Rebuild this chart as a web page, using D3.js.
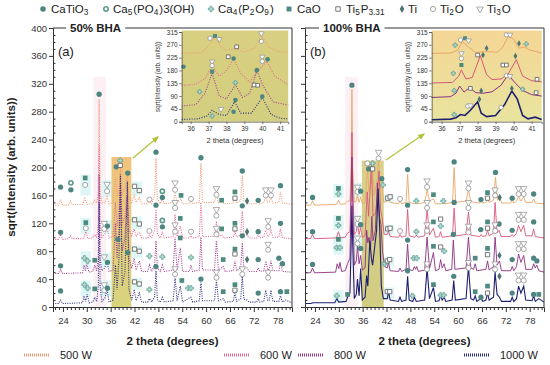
<!DOCTYPE html>
<html lang="en">
<head>
<meta charset="UTF-8">
<script src="https://cdn.jsdelivr.net/npm/d3@7"></script>
<style>
  body { margin: 0; background: #fff; }
  svg { font-family: "Liberation Sans", Arial, sans-serif; }
</style>
</head>
<body>
<script>
const w = 550, h = 365;

// ---------- axes / labels ----------
const xDomain = [21.5, 81.6];
const xTicks = [24, 30, 36, 42, 48, 54, 60, 66, 72, 78];
const yTicks = [0, 40, 80, 120, 160, 200, 240, 280, 320, 360, 400];
const insetXTicks = [36, 37, 38, 39, 40, 41];
const insetYTicks = [0, 45, 90, 135, 180, 225, 270, 315];
const powers = ["500 W", "600 W", "800 W", "1000 W"];
const colorsA = ["#f29a78", "#e46a94", "#a03a8e", "#2c2e80"];
const colorsB = ["#e8a868", "#d8587a", "#8a3080", "#1e2070"];

// phase legend: key, label parts [text, isSub]
const phases = [
  ["ct",   [["CaTiO",0],["3",1]]],
  ["hap",  [["Ca",0],["5",1],["(PO",0],["4",1],[")3(OH)",0]]],
  ["cp",   [["Ca",0],["4",1],["(P",0],["2",1],["O",0],["9",1],[")",0]]],
  ["cao",  [["CaO",0]]],
  ["tip",  [["Ti",0],["5",1],["P",0],["3.31",1]]],
  ["ti",   [["Ti",0]]],
  ["ti2o", [["Ti",0],["2",1],["O",0]]],
  ["ti3o", [["Ti",0],["3",1],["O",0]]]
];

// ---------- (a) 50% BHA, dotted patterns [2theta, sqrt(I)] ----------
const a500 = [[21.5,146],[22.9,146],[23.4,154],[23.9,146],[25.4,146],[25.9,152],[26.4,147],[28.9,147],[29.5,156],[30.1,147],[31.4,148],[31.9,153],[32.5,149],[32.9,165],[33.1,298],[33.35,165],[33.8,149],[34.6,150],[35.1,158],[35.6,148],[36.6,150],[37.2,186],[37.6,158],[38.1,172],[38.45,200],[38.9,162],[39.6,168],[40.2,188],[40.6,158],[41.3,150],[41.9,160],[42.4,150],[43.2,157],[43.8,148],[45.3,148],[45.75,153],[46.3,148],[47.05,160],[47.4,214],[47.75,155],[48.5,148],[49,155],[49.5,148],[51.7,150],[52.2,163],[52.7,150],[53.6,155],[54.1,148],[55.8,148],[56.2,152],[56.6,148],[58.3,150],[58.7,206],[59.1,150],[62.1,150],[62.6,162],[63.1,150],[63.9,153],[64.4,148],[66.8,149],[67.25,155],[67.7,149],[68.7,153],[69.1,188],[69.5,152],[70.3,152],[70.8,148],[72.7,148],[73.1,152],[73.5,148],[74.5,150],[75,158],[75.5,150],[75.9,151],[76.3,158],[76.8,149],[78.3,150],[78.7,165],[79.2,149],[81.6,147]];
const a600 = [[21.5,97],[22.9,97],[23.4,104],[23.9,97],[25.4,98],[25.9,102],[26.4,98],[29.2,98],[29.75,108],[30.3,98],[31.4,99],[31.9,104],[32.5,100],[32.9,120],[33.1,232],[33.35,118],[33.8,100],[34.5,104],[35.1,113],[35.6,99],[36.6,101],[37.2,150],[37.6,115],[38.1,140],[38.45,185],[38.9,118],[39.6,130],[40.2,172],[40.6,112],[41.3,102],[41.9,112],[42.4,101],[43.2,108],[43.8,99],[45.3,99],[45.75,103],[46.3,99],[47.05,110],[47.4,140],[47.75,104],[48.5,99],[49,108],[49.5,99],[51.7,101],[52.2,133],[52.7,101],[53.5,116],[54.1,99],[55.8,99],[56.2,102],[56.6,99],[58.3,101],[58.7,150],[59.1,101],[62.1,101],[62.6,123],[63.1,101],[63.9,104],[64.4,99],[66.8,100],[67.25,108],[67.7,100],[68.7,104],[69.1,138],[69.5,103],[70.3,103],[70.8,99],[72.7,99],[73.1,103],[73.5,99],[74.5,100],[75,110],[75.5,101],[75.9,102],[76.3,110],[76.8,100],[78.3,100],[78.7,112],[79.2,99],[81.6,98]];
const a800 = [[21.5,48],[22.9,48],[23.4,54],[23.9,48],[28.9,49],[29.3,60],[29.7,52],[30,62],[30.5,50],[31.5,51],[32,60],[32.5,52],[32.9,70],[33.1,190],[33.35,70],[33.8,52],[34.5,56],[35.1,66],[35.6,51],[36.6,53],[37.2,120],[37.6,70],[38.1,110],[38.45,175],[38.9,80],[39.6,100],[40.2,160],[40.6,70],[41.3,55],[41.9,70],[42.4,53],[43.2,66],[43.8,51],[45.3,51],[45.75,60],[46.3,51],[47.05,60],[47.4,95],[47.75,56],[48.5,51],[49,60],[49.5,51],[51.7,53],[52.2,100],[52.7,53],[53.5,85],[54.1,51],[55.8,51],[56.2,60],[56.6,51],[58.3,53],[58.7,100],[59.1,53],[62.1,53],[62.6,95],[63.1,53],[64.3,58],[64.8,51],[66.8,52],[67.25,66],[67.7,52],[68.7,56],[69.1,92],[69.5,55],[70.3,56],[70.8,51],[72.7,51],[73.1,56],[73.5,51],[74.5,52],[75,66],[75.5,53],[75.9,54],[76.3,66],[76.8,52],[78.3,52],[78.7,64],[79.2,51],[81.6,50]];
const a1000 = [[21.5,5],[22.9,5],[23.4,10],[23.9,5],[28.9,6],[29.3,16],[29.7,8],[30.1,18],[30.6,6],[31.5,7],[32,14],[32.5,8],[32.9,30],[33.1,150],[33.35,30],[33.8,8],[34.5,12],[35.1,25],[35.6,7],[36.6,10],[37.2,60],[37.6,25],[38.1,70],[38.45,190],[38.9,30],[39.6,50],[40.2,180],[40.6,25],[41.3,10],[41.9,25],[42.4,9],[43.2,20],[43.8,7],[45.3,7],[45.75,12],[46.3,7],[47.05,15],[47.4,52],[47.75,10],[48.5,7],[49,14],[49.5,7],[51.7,9],[52.2,42],[52.7,9],[53.5,30],[54.1,7],[55.5,12],[56.2,14],[56.6,7],[58.3,9],[58.7,35],[59.1,9],[62.1,9],[62.6,38],[63.1,9],[64.3,12],[64.8,7],[66.8,8],[67.25,20],[67.7,8],[68.7,12],[69.1,44],[69.5,11],[70.3,10],[70.8,7],[72.7,7],[73.1,12],[73.5,7],[74.5,8],[75,24],[75.5,9],[75.9,10],[76.3,24],[76.8,8],[78.3,8],[78.7,16],[79.2,7],[80,10],[81.6,6]];

// ---------- (b) 100% BHA, solid patterns ----------
const b500 = [[21.5,146],[22.9,146],[23.4,152],[23.9,146],[29.4,147],[29.9,153],[30.4,147],[31.6,148],[32.2,152],[32.8,152],[33.1,200],[33.3,312],[33.5,200],[33.9,150],[34.4,152],[34.7,160],[35.1,150],[35.5,158],[35.9,148],[36.6,150],[37.2,200],[37.6,165],[38.2,180],[38.5,200],[38.9,160],[39.6,180],[40,212],[40.4,170],[40.8,176],[41.3,150],[42.2,152],[42.5,156],[42.9,150],[45,148],[45.4,152],[45.8,148],[46.9,150],[47.3,190],[47.7,150],[49.1,148],[49.5,150],[49.9,148],[51.6,150],[52.2,168],[52.8,152],[53.8,155],[54.3,148],[55.9,148],[56.3,150],[56.7,148],[58.6,150],[59,200],[59.4,150],[62,152],[62.6,168],[63.2,151],[65.4,149],[65.75,152],[66.1,149],[67,150],[67.4,153],[67.8,150],[68.9,153],[69.4,186],[69.9,153],[70.45,156],[71,149],[73.2,149],[73.6,153],[74,149],[74.7,152],[75.2,158],[75.8,152],[76.5,158],[77,150],[78.6,150],[79,155],[79.4,149],[81.6,148]];
const b600 = [[21.5,98],[22.9,98],[23.4,104],[23.9,98],[29.4,99],[29.9,108],[30.4,99],[31.6,100],[32.2,106],[32.8,108],[33.1,170],[33.3,250],[33.5,170],[33.9,104],[34.4,108],[34.7,120],[35.1,104],[35.5,114],[35.9,100],[36.6,102],[37.15,165],[37.5,130],[38.2,205],[38.6,130],[39.3,135],[39.7,160],[40.1,195],[40.5,140],[40.9,128],[41.4,104],[42.2,104],[42.5,109],[42.9,101],[45,100],[45.4,104],[45.8,100],[46.9,102],[47.3,140],[47.7,102],[49.1,100],[49.5,103],[49.9,100],[51.6,102],[52.2,140],[52.8,103],[53.8,113],[54.3,100],[55.2,101],[55.6,108],[56,100],[58.6,102],[59,142],[59.4,102],[62,104],[62.6,136],[63.2,103],[65.4,101],[65.75,104],[66.1,101],[67,102],[67.4,110],[67.8,102],[68.9,106],[69.3,150],[69.8,106],[70.3,110],[70.8,101],[73.2,101],[73.6,104],[74,101],[74.7,106],[75.2,117],[75.8,108],[76.5,117],[77,102],[78.6,102],[79,112],[79.4,101],[81.6,99]];
const b800 = [[21.5,49],[22.9,49],[23.4,56],[23.9,49],[29.2,50],[29.6,62],[30,55],[30.3,64],[30.7,51],[31.6,52],[32.2,62],[32.8,70],[33.1,150],[33.3,215],[33.5,150],[33.9,60],[34.4,66],[34.7,88],[35.1,62],[35.5,74],[35.9,53],[36.6,56],[37,110],[37.3,92],[37.6,100],[38,85],[38.3,130],[38.6,95],[39.2,110],[39.7,178],[40.2,130],[40.6,118],[41,80],[41.5,58],[42.2,56],[42.5,64],[42.9,52],[45,51],[45.4,56],[45.8,51],[46.9,54],[47.3,90],[47.7,54],[48.6,52],[49,58],[49.3,54],[49.6,58],[50,51],[51.6,53],[52.2,100],[52.8,55],[53.8,78],[54.3,52],[55.2,54],[55.6,68],[56,56],[56.5,62],[56.9,52],[58.4,54],[58.8,96],[59.2,54],[62,56],[62.6,100],[63.2,56],[63.9,54],[64.3,62],[64.7,52],[67,54],[67.4,66],[67.8,53],[68.9,58],[69.3,100],[69.8,60],[70.4,66],[70.9,52],[73.2,52],[73.6,58],[74,52],[74.7,58],[75.2,76],[75.8,64],[76.5,74],[77,54],[78.6,54],[79,62],[79.4,56],[79.8,60],[80.3,52],[81.6,50]];
const b1000 = [[21.5,5],[23,5],[23.5,6],[29,6],[29.5,12],[30,7],[31.8,8],[32.2,14],[32.8,20],[33.1,90],[33.3,145],[33.5,90],[33.9,12],[34.4,18],[34.7,40],[35.1,16],[35.5,55],[35.9,10],[36.6,14],[37,45],[37.3,30],[37.8,95],[38.2,70],[38.5,60],[39,85],[39.5,110],[39.9,170],[40.3,110],[40.7,30],[41.2,12],[42.2,12],[42.5,22],[42.9,10],[45,8],[45.4,14],[45.8,8],[46.9,10],[47.3,44],[47.7,10],[48.6,8],[49,14],[49.5,8],[51.6,10],[52.2,56],[52.8,12],[53.8,28],[54.3,8],[55.2,9],[55.6,16],[56,10],[56.5,14],[56.9,8],[58.5,10],[58.9,38],[59.3,10],[62,12],[62.6,58],[63.2,12],[63.9,10],[64.3,16],[64.7,8],[65.75,12],[66.2,8],[67,10],[67.4,20],[67.8,10],[68.9,14],[69.3,50],[69.8,18],[70.4,14],[70.9,8],[73.2,8],[73.6,14],[74,8],[74.7,12],[75.2,30],[75.8,20],[76.5,30],[77,10],[78.6,9],[79,16],[79.4,8],[80.3,12],[81.6,7]];

// ---------- insets (36-41 deg) ----------
const ia500 = [[35.5,240],[36.6,242],[37.05,270],[37.35,300],[37.7,262],[38.0,250],[38.55,258],[39,244],[39.6,260],[39.95,305],[40.35,262],[40.8,248],[41.45,244]];
const ia600 = [[35.5,128],[36.2,130],[36.8,150],[37.2,195],[37.6,160],[38.0,180],[38.4,220],[38.8,170],[39.3,140],[39.7,175],[40.25,212],[40.7,160],[41.45,130]];
const ia800 = [[35.5,55],[36.3,60],[36.8,100],[37.2,170],[37.6,90],[38.0,80],[38.5,130],[38.9,85],[39.3,100],[39.7,178],[40.1,120],[40.6,70],[41.45,58]];
const ia1000 = [[35.5,8],[36.4,10],[36.9,20],[37.2,40],[37.6,25],[38.0,22],[38.45,70],[38.8,30],[39.4,30],[40,85],[40.5,25],[41,12],[41.45,10]];
const ib500 = [[35.45,240],[36.5,241],[36.9,252],[37.15,282],[37.5,262],[37.9,243],[38.4,246],[39.1,244],[39.4,262],[39.7,300],[40.0,290],[40.3,258],[40.6,262],[40.9,252],[41.56,241]];
const ib600 = [[35.45,136],[36.6,138],[36.95,160],[37.1,182],[37.35,150],[37.7,155],[38.15,232],[38.5,165],[38.8,148],[39.3,150],[39.7,168],[40.15,218],[40.5,160],[41,144],[41.56,140]];
const ib800 = [[35.45,85],[36.5,88],[36.8,100],[37.0,125],[37.25,104],[37.55,120],[37.9,102],[38.3,100],[38.8,105],[39.3,128],[39.7,165],[40.1,135],[40.5,110],[41,95],[41.56,90]];
const ib1000 = [[35.45,7],[36.5,9],[36.8,14],[37.05,25],[37.3,22],[37.6,40],[38.0,70],[38.2,30],[38.5,18],[39.0,22],[39.5,60],[39.9,108],[40.2,80],[40.5,22],[40.8,10],[41.2,16],[41.56,8]];

// ---------- phase markers [phase, 2theta, sqrt(I)] ----------
const markersA = [
  ["ct",23.4,172],["hap",26,178],["ct",26,168],["cao",29.6,185],["ti2o",29.6,175],["ct",33.1,305],["ti3o",35.1,176],["ti2o",35.1,166],["ct",37.4,201],["cp",38.4,210],["tip",38.4,203],["ct",40.3,192],["tip",42,173],["tip",43.2,167],["ti2o",45.75,154],["ct",47.4,222],["hap",49,166],["ct",49,157],["ti3o",52.2,178],["ti2o",52.2,168],["cao",53.7,160],["ti2o",56.2,155],["ct",58.7,214],["ti3o",62.6,170],["ti2o",62.6,161],["cao",63.9,153],["cao",67.25,165],["tip",67.25,156],["ct",69.1,195],["ti",70.3,152],["ct",73.1,153],["ti3o",75,168],["ti2o",75,160],["ti3o",76.3,168],["ti2o",76.3,160],["ct",78.7,174],
  ["ct",23.4,107],["cao",29.75,121],["ti2o",29.75,113],["ti3o",34.4,120],["ti2o",34.4,112],["ct",35.2,116],["tip",42,125],["tip",43.2,119],["ti2o",45.75,109],["ct",47.4,146],["hap",49,124],["ct",49,115],["ti3o",52.2,150],["ti2o",52.2,142],["cao",53.5,127],["ti2o",56.2,108],["ti3o",62.6,140],["ti2o",62.6,131],["cao",63.9,112],["cao",67.25,120],["tip",67.25,112],["ct",69.1,145],["ti",70.3,108],["ct",73.1,108],["ti3o",75.6,124],["ti2o",75.6,115],["ct",78.7,120],
  ["ct",23.4,59],["cp",29.4,70],["cp",30.2,66],["cao",32,67],["ti3o",34.4,72],["ct",35.2,64],["ct",37.8,97],["ct",40.3,78],["tip",42,83],["tip",43.2,80],["cp",45.75,73],["cp",49,72],["ti3o",52.2,118],["ti2o",52.2,108],["cao",53.5,99],["cp",56.2,71],["ti3o",62.6,113],["ti2o",62.6,104],["cao",64.3,68],["cao",67.25,83],["tip",67.25,76],["ct",69.1,102],["ti",70.3,68],["ct",73.1,68],["ti3o",75.6,90],["ti2o",75.6,82],["ct",78.3,70],["ct",79.2,62],
  ["ct",23.4,23],["cp",29.4,32],["cp",30.2,27],["cao",32,26],["ti3o",34.4,32],["ti2o",34.4,24],["ct",35.2,27],["tip",42,36],["tip",43.2,33],["cp",45.75,25],["ct",47.4,58],["ti3o",52.2,55],["ti2o",52.2,47],["cao",53.9,38],["cp",55.5,27],["cp",56.2,27],["ct",58.7,40],["ti3o",62.6,50],["ti2o",62.6,42],["cao",64.3,22],["cao",67.25,32],["tip",67.25,24],["ti3o",69.1,55],["ti2o",69.1,47],["ct",73.1,20],["ti3o",75.6,50],["ti2o",75.6,42],["ct",78.7,22],["cao",80.3,22]
];
const markersB = [
  ["ct",23.4,157],["cao",29.9,170],["cp",29.9,162],["ct",33.3,318],["ti3o",34.7,172],["ti2o",34.7,165],["ct",35.5,166],["ti2o",37.2,206],["ct",37.5,198],["cp",38.5,206],["tip",38.5,198],["ti3o",40,222],["ti2o",40,213],["ct",40.8,184],["cp",41.1,175],["tip",42.3,156],["tip",42.9,158],["ti2o",45.4,155],["ct",47.3,197],["cp",49.5,152],["ti3o",52.2,181],["ti2o",52.2,172],["cao",53.8,161],["cp",56.3,152],["ct",59,208],["ti3o",62.6,178],["ti2o",62.6,170],["ct",65.75,154],["cao",67.4,164],["tip",67.4,156],["ct",69.4,193],["ti",70.45,157],["ct",73.6,156],["ti3o",75.2,170],["ti2o",75.2,162],["ti3o",76.5,170],["ti2o",76.5,162],["ct",79,162],
  ["ct",23.4,108],["cao",29.9,127],["cp",29.9,117],["ti3o",34.7,127],["ti2o",34.7,119],["ct",35.5,118],["tip",42.3,112],["tip",42.9,113],["ti2o",45.4,109],["ct",47.3,146],["cp",49.5,108],["ti3o",52.2,150],["ti2o",52.2,142],["cao",53.8,122],["tip",55.6,126],["cp",55.6,116],["ct",59,150],["ti3o",62.6,150],["ti2o",62.6,142],["ct",65.7,111],["cao",67.4,122],["tip",67.4,113],["ti3o",69.3,168],["ti2o",69.3,160],["ct",70.3,119],["ct",73.6,110],["ti3o",75.2,133],["ti2o",75.2,125],["ti3o",76.5,133],["ti2o",76.5,125],["ct",79,122],
  ["ct",23.4,61],["cao",29.9,97],["cp",29.5,85],["cp",30.3,85],["ti3o",34.7,99],["ti2o",34.7,91],["ct",35.5,84],["cp",41.5,62],["tip",42.2,66],["tip",42.8,68],["ct",47.3,96],["cp",48.8,70],["cp",49.6,70],["ti3o",52.2,118],["ti2o",52.2,109],["cao",53.8,87],["tip",55.6,86],["cp",56.5,80],["ct",58.8,104],["ti3o",62.6,116],["ti2o",62.6,107],["cao",64.3,70],["cao",67.4,84],["tip",67.4,75],["ti3o",69.3,118],["ti2o",69.3,109],["ti",70.4,74],["ct",73.6,68],["ti3o",75.2,91],["ti2o",75.2,83],["ti3o",76.5,91],["ti2o",76.5,83],["ct",79,70],["ct",79.8,66],
  ["cp",29.5,16],["cao",32.2,18],["tip",42.2,22],["tip",42.8,22],["ct",47.3,52],["cp",48.5,16],["ti3o",52.2,62],["ti2o",52.2,54],["cao",53.8,32],["cp",55.6,17],["cp",56.4,17],["ct",58.9,44],["ti3o",62.6,64],["ti2o",62.6,56],["cao",64.3,22],["ct",65.75,14],["cao",67.4,30],["tip",67.4,20],["ti3o",69.3,62],["ti2o",69.3,54],["ti",70.4,44],["ct",73.6,20],["ti3o",75.2,46],["ti2o",75.2,38],["ti3o",76.5,46],["ti2o",76.5,38],["ct",79,18],["cao",80.3,18]
];
const insetMarkersA = [
  ["ct",35.6,193],["cp",36.5,105],["ti2o",37.08,293],["cao",37.36,301],["ti3o",37.6,290],["tip",38.57,263],["tip",38.1,228],["ct",38.4,222],["ti3o",37.2,211],["ti2o",37.2,197],["cao",37.2,176],["cp",38.5,137],["ct",38.5,76],["ct",38.4,35],["cp",37.2,20],["ti3o",37.7,44],["ti3o",39.95,310],["ti2o",39.95,282],["ti3o",40,228],["ti2o",40,212],["ct",39.7,181],["ct",40.3,219],["tip",39.55,129],["tip",39.75,128],["ct",40,88]
];
const insetMarkersB = [
  ["cp",36.75,269],["ti2o",37.05,287],["cao",37.3,293],["ti3o",37.5,285],["ti",38.5,258],["ti2o",39.6,305],["ti3o",39.8,305],["ti",40.3,275],["cp",40.7,273],["ti3o",37.1,240],["ti2o",37.1,222],["cao",37.1,199],["tip",38,234],["ti",38.3,234],["tip",39.4,199],["tip",39.6,199],["ti",40.1,231],["tip",41.3,149],["cp",36.65,170],["cp",36.7,109],["tip",37.6,117],["ti",38.2,109],["ti2o",39.6,162],["ti3o",39.8,160],["cp",40.5,114],["tip",41.25,102],["cp",36.7,25],["ti2o",37.45,55],["ti3o",37.6,57],["ti",38.1,79],["ti2o",39.3,50],["ti",39.9,117]
];

// light cyan patches behind marker groups [2theta, from, to]
const patchesA = [[29.7,160,190],[35,158,182],[42.6,160,180],[29.7,105,128],[35,105,125],[42.6,112,130],[29.8,55,80],[34.8,55,78],[42.6,70,88],[29.8,15,38],[34.8,15,38],[42.6,25,42]];
const patchesB = [[29.9,156,176],[34.9,158,178],[42.6,150,162],[29.9,110,132],[34.9,110,132],[42.6,105,118],[29.9,75,102],[34.9,80,104],[42.6,58,72],[29.9,8,24],[42.6,12,28]];

// ---------- drawing ----------
const svg = d3.select("body").append("svg").attr("width", w).attr("height", h);
const defs = svg.append("defs");

function grad(id, stops) {
  const g = defs.append("linearGradient").attr("id", id).attr("x1", 0).attr("y1", 0).attr("x2", 0).attr("y2", 1);
  stops.forEach(s => g.append("stop").attr("offset", s[0]).attr("stop-color", s[1]));
}
grad("boxA", [[0, "#efb866"], [0.5, "#dfc466"], [1, "#d2cc66"]]);
grad("boxB", [[0, "#d4c878"], [1, "#c9c46c"]]);
grad("insA", [[0, "#d9cf80"], [1, "#d3cf80"]]);
grad("insB", [[0, "#f5d696"], [1, "#e8e49e"]]);

defs.append("marker").attr("id", "arrow").attr("viewBox", "0 0 10 10")
  .attr("refX", 8).attr("refY", 5).attr("markerWidth", 6).attr("markerHeight", 6)
  .attr("orient", "auto")
  .append("path").attr("d", "M0,1 L10,5 L0,9 Z").attr("fill", "#b4c23a");

const markerKind = {
  ct:   { type: d3.symbolCircle,   size: 22, fill: "#4d8581", stroke: "none", sw: 0 },
  hap:  { type: d3.symbolCircle,   size: 14, fill: "#fff",    stroke: "#5d9a90", sw: 1.6 },
  cp:   { type: d3.symbolCross,    size: 15, fill: "#b6dcd2", stroke: "#5f9e94", sw: 0.7 },
  cao:  { type: d3.symbolSquare,   size: 22, fill: "#4e8a80", stroke: "none", sw: 0 },
  tip:  { type: d3.symbolSquare,   size: 18, fill: "#fff",    stroke: "#6a6a6a", sw: 0.9 },
  ti:   { type: d3.symbolDiamond,  size: 16, fill: "#4d7470", stroke: "none", sw: 0 },
  ti2o: { type: d3.symbolCircle,   size: 20, fill: "#fff",    stroke: "#909090", sw: 0.8 },
  ti3o: { type: d3.symbolTriangle, size: 18, fill: "#fff",    stroke: "#999",    sw: 0.8, flip: true }
};

function drawMarkers(g, list, x, y, scale) {
  g.selectAll(null).data(list).enter().append("path")
    .attr("d", d => d3.symbol().type(markerKind[d[0]].type).size(markerKind[d[0]].size * scale)())
    .attr("transform", d => `translate(${x(d[1])},${y(d[2])})` + (markerKind[d[0]].flip ? " rotate(180)" : ""))
    .attr("fill", d => markerKind[d[0]].fill)
    .attr("stroke", d => markerKind[d[0]].stroke)
    .attr("stroke-width", d => markerKind[d[0]].sw);
}

function richText(g, x, y, parts, size) {
  const t = g.append("text").attr("x", x).attr("y", y).attr("font-size", size).attr("fill", "#222");
  parts.forEach(p => {
    t.append("tspan").text(p[0])
      .attr("font-size", p[1] ? size * 0.72 : size)
      .attr("dy", p[1] ? 1.5 : 0);
    if (p[1]) t.append("tspan").attr("font-size", size).text("\u200a").attr("dy", -1.5);
  });
  return t;
}

// top legend
const legendMarkX = [43, 106, 211, 289, 338, 402, 433, 480];
const legendTextX = [51, 113, 218, 297, 346, 408, 440, 487];
phases.forEach((p, i) => {
  drawMarkers(svg, [[p[0], 0, 0]], () => legendMarkX[i], () => 9, 1.1);
  richText(svg, legendTextX[i], 13, p[1], 11.5);
});

const line = (x, y) => d3.line().x(d => x(d[0])).y(d => y(d[1]));

function drawPanel(p) {
  const x = d3.scaleLinear().domain(xDomain).range([p.x0, p.x1]);
  const y = d3.scaleLinear().domain([0, 400]).range([307, 28]);
  const g = svg.append("g");

  // soft pink band behind strongest reflection
  g.append("rect").attr("x", x(31.6)).attr("width", x(34.8) - x(31.6))
    .attr("y", y(330)).attr("height", y(0) - y(330)).attr("fill", "#fdf0f5");

  g.selectAll(null).data(p.patches).enter().append("rect")
    .attr("x", d => x(d[0] - 1.3)).attr("width", d => x(d[0] + 1.3) - x(d[0] - 1.3))
    .attr("y", d => y(d[2])).attr("height", d => y(d[1]) - y(d[2]))
    .attr("fill", "#dff6f6");

  // highlighted 36-41 deg region
  g.append("rect").attr("x", x(p.box[0])).attr("width", x(p.box[1]) - x(p.box[0]))
    .attr("y", y(p.box[2])).attr("height", y(0) - y(p.box[2]))
    .attr("fill", `url(#${p.boxFill})`).attr("opacity", 0.85);

  p.series.forEach((s, i) => {
    g.append("path").datum(s).attr("d", line(x, y))
      .attr("fill", "none").attr("stroke", p.colors[i])
      .attr("stroke-width", p.dotted ? 1.1 : (i === 3 ? 1.1 : 0.9))
      .attr("stroke-dasharray", p.dotted ? "1,1.3" : null);
  });
  drawMarkers(g, p.markers, x, y, 1);

  // frame
  g.append("path").attr("d", `M${p.x0},${y(400)}H${p.x1}V${y(0)}`)
    .attr("fill", "none").attr("stroke", "#333").attr("stroke-width", 1);

  const ya = g.append("g").attr("transform", `translate(${p.x0},0)`)
    .call(d3.axisLeft(y).tickValues(yTicks).tickSize(4).tickPadding(2));
  ya.selectAll("text").attr("font-size", 9.5).attr("fill", "#333");
  if (!p.yLabels) ya.selectAll("text").text("");
  g.append("g").attr("transform", `translate(${p.x0},0)`)
    .call(d3.axisRight(y).tickValues(d3.range(10, 400, 10).filter(v => v % 40)).tickSize(2.5).tickFormat(""))
    .select(".domain").remove();

  const xa = g.append("g").attr("transform", `translate(0,${y(0)})`)
    .call(d3.axisBottom(x).tickValues(xTicks).tickSize(5).tickPadding(5));
  xa.selectAll("text").attr("font-size", 9.5).attr("fill", "#333");
  g.append("g").attr("transform", `translate(0,${y(0)})`)
    .call(d3.axisBottom(x).tickValues(d3.range(22, 82, 1).filter(v => xTicks.indexOf(v) < 0)).tickSize(3).tickFormat(""))
    .select(".domain").remove();
  g.selectAll(".tick line").attr("stroke", "#333");
  g.selectAll(".domain").attr("stroke", "#333");

  // panel title breaking the frame
  const bg = g.append("rect").attr("fill", "#fff");
  const tt = g.append("text").attr("x", p.title[1]).attr("y", 32).attr("font-size", 11.5)
    .attr("font-weight", "bold").attr("fill", "#222").text(p.title[0]);
  const bb = tt.node().getBBox();
  bg.attr("x", bb.x - 4).attr("y", bb.y).attr("width", bb.width + 8).attr("height", bb.height);
  g.append("text").attr("x", p.x0 + 5).attr("y", 56).attr("font-size", 13).attr("fill", "#222").text(p.tag);

  g.append("text").attr("x", (p.x0 + p.x1) / 2).attr("y", 345).attr("text-anchor", "middle")
    .attr("font-size", 11.5).attr("font-weight", "bold").attr("fill", "#222").text("2 theta (degrees)");

  // arrow from highlight to inset
  g.append("line").attr("x1", p.arrow[0]).attr("y1", p.arrow[1]).attr("x2", p.arrow[2]).attr("y2", p.arrow[3])
    .attr("stroke", "#b4c23a").attr("stroke-width", 1.2).attr("marker-end", "url(#arrow)");

  // inset
  const ix = d3.scaleLinear().domain(p.inset.dom).range(p.inset.range);
  const iy = d3.scaleLinear().domain([0, 315]).range([121.7, 32]);
  const ig = svg.append("g");
  ig.append("rect").attr("x", p.inset.range[0]).attr("y", 30.5)
    .attr("width", p.inset.range[1] - p.inset.range[0]).attr("height", 121.7 - 30.5)
    .attr("fill", `url(#${p.inset.fill})`);
  p.inset.series.forEach((s, i) => {
    ig.append("path").datum(s).attr("d", line(ix, iy))
      .attr("fill", "none").attr("stroke", p.colors[i])
      .attr("stroke-width", p.dotted ? 1.1 : (i === 3 ? 1.6 : 1))
      .attr("stroke-dasharray", p.dotted ? "1,1.5" : null);
  });
  drawMarkers(ig, p.inset.markers, ix, iy, 0.75);
  ig.append("g").attr("transform", `translate(${p.inset.range[0]},0)`)
    .call(d3.axisLeft(iy).tickValues(insetYTicks).tickSize(2.5).tickPadding(1.5));
  ig.append("g").attr("transform", `translate(0,121.7)`)
    .call(d3.axisBottom(ix).tickValues(insetXTicks).tickFormat(d3.format("d")).tickSize(2.5).tickPadding(2));
  ig.selectAll("text").attr("font-size", 6.5).attr("fill", "#333");
  ig.selectAll(".domain, .tick line").attr("stroke", "#444").attr("stroke-width", 0.7);
  ig.append("text").attr("transform", `translate(${p.inset.range[0] - 22},77) rotate(-90)`)
    .attr("text-anchor", "middle").attr("font-size", 6.3).attr("fill", "#333")
    .text("sqrt(Intensity (arb. units))");
  ig.append("text").attr("x", (p.inset.range[0] + p.inset.range[1]) / 2).attr("y", 143)
    .attr("text-anchor", "middle").attr("font-size", 7.5).attr("fill", "#333").text("2 theta (degrees)");
}

drawPanel({
  x0: 53, x1: 292, dotted: true, yLabels: true, colors: colorsA,
  series: [a500, a600, a800, a1000], markers: markersA, patches: patchesA,
  box: [36.2, 41.2, 215], boxFill: "boxA",
  title: ["50% BHA", 70], tag: "(a)", arrow: [133, 158, 158, 137],
  inset: { dom: [35.5, 41.45], range: [181.7, 288.2], fill: "insA",
           series: [ia500, ia600, ia800, ia1000], markers: insetMarkersA }
});
drawPanel({
  x0: 305, x1: 544, dotted: false, yLabels: false, colors: colorsB,
  series: [b500, b600, b800, b1000], markers: markersB, patches: patchesB,
  box: [35.8, 41.3, 210], boxFill: "boxB",
  title: ["100% BHA", 323], tag: "(b)", arrow: [386, 160, 424, 134],
  inset: { dom: [35.45, 41.56], range: [431.7, 541.7], fill: "insB",
           series: [ib500, ib600, ib800, ib1000], markers: insetMarkersB }
});

// y axis title
svg.append("text").attr("transform", "translate(15,167) rotate(-90)").attr("text-anchor", "middle")
  .attr("font-size", 11.5).attr("font-weight", "bold").attr("fill", "#222")
  .text("sqrt(Intensity (arb. units))");

// bottom legend
const sampleX = [24, 224, 298, 464];
powers.forEach((p, i) => {
  svg.append("line").attr("x1", sampleX[i]).attr("x2", sampleX[i] + 26).attr("y1", 355).attr("y2", 355)
    .attr("stroke", colorsA[i]).attr("stroke-width", 3).attr("stroke-dasharray", "1,1");
  svg.append("text").attr("x", sampleX[i] + 36).attr("y", 359).attr("font-size", 11)
    .attr("fill", "#222").text(p);
});
</script>
</body>
</html>
